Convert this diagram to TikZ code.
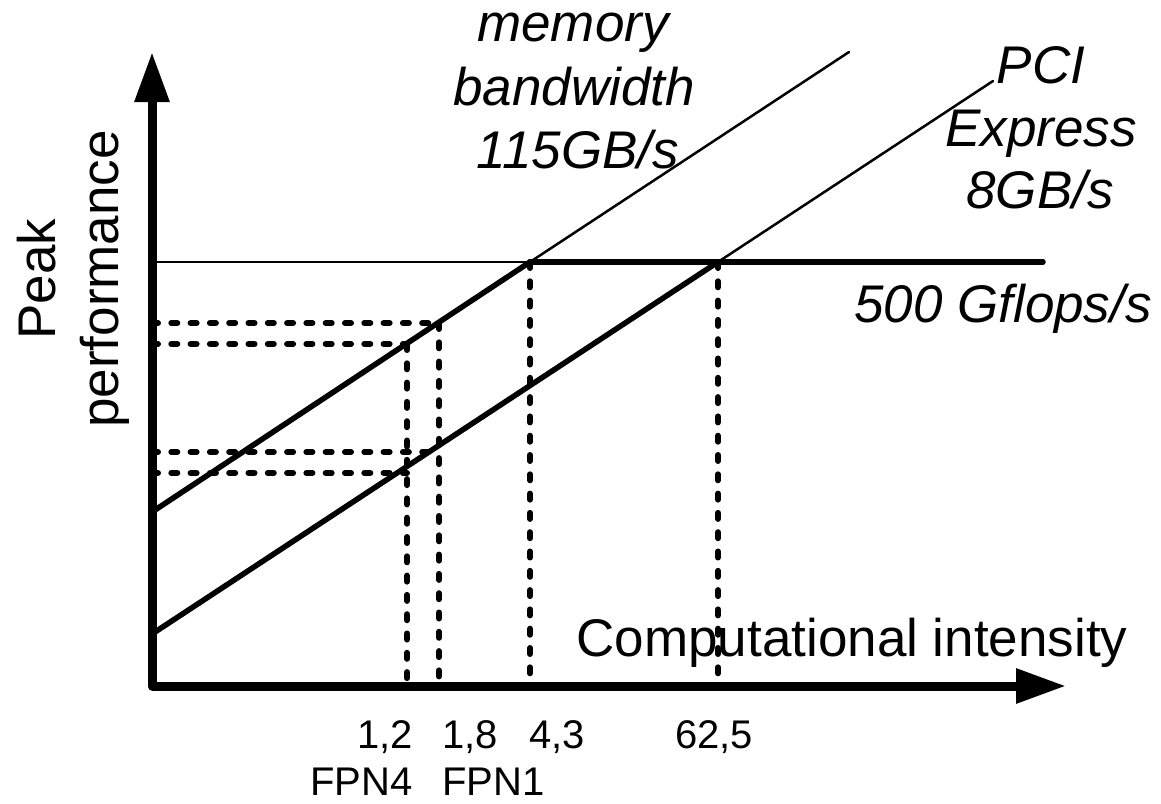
\documentclass[tikz,border=0pt]{standalone}
\usepackage{fontspec}
\setmainfont{Liberation Sans}
\usetikzlibrary{arrows.meta}
\begin{document}
\begin{tikzpicture}[x=1pt,y=-1pt,
  axis/.style={line width=9pt, line join=round,
    {Triangle[length=50pt,width=33pt]}-{Triangle[length=50pt,width=33pt]}},
  thickln/.style={line width=5.5pt, line cap=round},
  thinln/.style={line width=2.5pt, line cap=round},
  guide/.style={line width=6pt, line cap=round, dash pattern=on 6pt off 13.3pt},
  big/.style={font=\fontsize{53}{64}\selectfont, inner sep=0pt},
  bigit/.style={font=\fontsize{53}{64}\selectfont\itshape, inner sep=0pt},
  small/.style={font=\fontsize{40}{48}\selectfont, inner sep=0pt}]
\useasboundingbox (0,0) rectangle (1161,803);

% key points
\coordinate (O) at (152,686);
\coordinate (ytip) at (152,52);
\coordinate (xtip) at (1066,686);
\coordinate (memA) at (152,512);
\coordinate (memB) at (530,262);
\coordinate (memC) at (849,52);
\coordinate (pciA) at (152,634);
\coordinate (pciB) at (718,262);
\coordinate (pciC) at (993,81);
\coordinate (peakA) at (152,262);
\coordinate (peakE) at (1043,262);

% guide points
\coordinate (h1a) at (152,323); \coordinate (h1b) at (439,323);
\coordinate (h2a) at (152,344); \coordinate (h2b) at (407,344);
\coordinate (h3a) at (152,452); \coordinate (h3b) at (439,452);
\coordinate (h4a) at (152,473); \coordinate (h4b) at (407,473);
\coordinate (v1b) at (407,686);
\coordinate (v2b) at (439,686);
\coordinate (v3b) at (530,686);
\coordinate (v4b) at (718,686);

% dashed guides
\draw[guide] (h1a) -- (h1b);
\draw[guide] (h2a) -- (h2b);
\draw[guide] (h3a) -- (h3b);
\draw[guide] (h4a) -- (h4b);
\draw[guide] (h2b) -- (v1b);
\draw[guide] (h1b) -- (v2b);
\draw[guide] (memB) -- (v3b);
\draw[guide] (pciB) -- (v4b);

% roofline
\draw[thinln] (peakA) -- (memB);
\draw[thickln] (memB) -- (peakE);
\draw[thickln] (memA) -- (memB);
\draw[thinln] (memB) -- (memC);
\draw[thickln] (pciA) -- (pciB);
\draw[thinln] (pciB) -- (pciC);

% axes
\draw[axis] (ytip) -- (O) -- (xtip);

% labels
\node[big, rotate=90, anchor=base] (peak) at (55,279) {Peak};
\node[big, rotate=90, anchor=base] (perf) at (118,279) {performance};
\node[big, anchor=base] (ci) at (852,656) {Computational intensity};

\node[bigit, anchor=base] (mem1) at (573,41) {memory};
\node[bigit, anchor=base] (mem2) at (574,105) {bandwidth};
\node[bigit, anchor=base] (mem3) at (578,168) {115GB/s};

\node[bigit, anchor=base] (pci1) at (1041,83) {PCI};
\node[bigit, anchor=base] (pci2) at (1041,146) {Express};
\node[bigit, anchor=base] (pci3) at (1040,208) {8GB/s};

\node[bigit, anchor=base] (gf) at (1003,322) {500 Gflops/s};

\node[small, anchor=base east] (n12) at (413,748) {1,2};
\node[small, anchor=base east] (fpn4) at (413,795) {FPN4};
\node[small, anchor=base west] (n18) at (442,748) {1,8};
\node[small, anchor=base west] (fpn1) at (442,795) {FPN1};
\node[small, anchor=base] (n43) at (557,748) {4,3};
\node[small, anchor=base] (n625) at (714,748) {62,5};
\end{tikzpicture}
\end{document}
